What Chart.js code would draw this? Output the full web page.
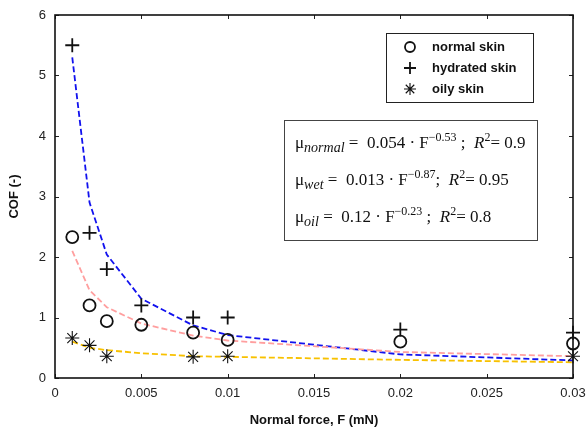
<!DOCTYPE html>
<html>
<head>
<meta charset="utf-8">
<script src="https://cdn.jsdelivr.net/npm/chart.js@4/dist/chart.umd.min.js"></script>
<style>
  html, body { margin: 0; padding: 0; background: #fff; }
  #wrap { width: 588px; height: 431px; }
</style>
</head>
<body>
<div id="wrap"><canvas id="c" width="588" height="431"></canvas></div>
<script>
// Normal force (mN) at which friction was measured
const forces = [0.001, 0.002, 0.003, 0.005, 0.008, 0.01, 0.02, 0.03];
// Measured coefficient of friction per skin condition
const normalSkin = [2.33, 1.20, 0.94, 0.88, 0.75, 0.63, 0.60, 0.57];
const hydratedSkin = [5.50, 2.40, 1.80, 1.20, 1.00, 1.00, 0.80, 0.75];
const oilyForces = [0.001, 0.002, 0.003, 0.008, 0.01, 0.03];
const oilySkin = [0.66, 0.54, 0.36, 0.35, 0.36, 0.36];
// Power-law fit curves evaluated at the measured forces
const normalFit = [2.10, 1.45, 1.17, 0.90, 0.70, 0.62, 0.43, 0.36];
const wetFit = [5.30, 2.90, 2.04, 1.31, 0.87, 0.71, 0.39, 0.29];
const oilFit = [0.60, 0.50, 0.46, 0.41, 0.36, 0.35, 0.30, 0.26];
// Axis ticks
const xTicks = [0, 0.005, 0.01, 0.015, 0.02, 0.025, 0.03];
const yTicks = [0, 1, 2, 3, 4, 5, 6];
// Legend entries and fit equations
const legendLabels = ['normal skin', 'hydrated skin', 'oily skin'];
const fitNames = ['normal', 'wet', 'oil'];
const fitCoeffs = ['0.054', '0.013', '0.12'];
const fitExps = ['\u22120.53', '\u22120.87', '\u22120.23'];
const fitR2 = ['0.9', '0.95', '0.8'];

const pts = (xs, ys) => xs.map((x, i) => ({ x: x, y: ys[i] }));

const markerStyles = ['circle', 'cross', 'star'];

function drawMarker(ctx, style, x, y, r) {
  ctx.save();
  ctx.strokeStyle = '#111';
  ctx.beginPath();
  if (style === 'circle') {
    ctx.lineWidth = 1.8;
    ctx.arc(x, y, r, 0, Math.PI * 2);
  } else if (style === 'cross') {
    ctx.lineWidth = 1.8;
    ctx.moveTo(x - r, y); ctx.lineTo(x + r, y);
    ctx.moveTo(x, y - r); ctx.lineTo(x, y + r);
  } else {
    ctx.lineWidth = 1.1;
    for (let k = 0; k < 4; k++) {
      const a = k * Math.PI / 4;
      ctx.moveTo(x - r * Math.cos(a), y - r * Math.sin(a));
      ctx.lineTo(x + r * Math.cos(a), y + r * Math.sin(a));
    }
  }
  ctx.stroke();
  ctx.restore();
}

// Frame, inward ticks, legend and equation box
const decorations = {
  id: 'decorations',
  afterDatasetsDraw(chart) {
    const ctx = chart.ctx;
    const a = chart.chartArea;
    const xs = chart.scales.x, ys = chart.scales.y;
    ctx.save();
    ctx.strokeStyle = '#222';
    ctx.lineWidth = 1;
    const tl = 4;
    ctx.beginPath();
    xTicks.forEach(v => {
      const px = Math.round(xs.getPixelForValue(v)) + 0.5;
      ctx.moveTo(px, a.bottom); ctx.lineTo(px, a.bottom - tl);
      ctx.moveTo(px, a.top); ctx.lineTo(px, a.top + tl);
    });
    yTicks.forEach(v => {
      const py = Math.round(ys.getPixelForValue(v)) + 0.5;
      ctx.moveTo(a.left, py); ctx.lineTo(a.left + tl, py);
      ctx.moveTo(a.right, py); ctx.lineTo(a.right - tl, py);
    });
    ctx.stroke();
    ctx.lineWidth = 1.6;
    ctx.strokeStyle = '#111';
    ctx.strokeRect(a.left, a.top, a.right - a.left, a.bottom - a.top);

    // Legend
    const lx = a.left + 331, ly = a.top + 18, lw = 147, lh = 69;
    ctx.fillStyle = '#fff';
    ctx.fillRect(lx, ly, lw, lh);
    ctx.lineWidth = 1;
    ctx.strokeStyle = '#222';
    ctx.strokeRect(lx + 0.5, ly + 0.5, lw, lh);
    ctx.font = 'bold 13px "Liberation Sans", Arial, sans-serif';
    ctx.fillStyle = '#111';
    ctx.textBaseline = 'middle';
    legendLabels.forEach((t, i) => {
      const y = ly + 14 + i * 21;
      drawMarker(ctx, markerStyles[i], lx + 24, y, i === 0 ? 5 : 6);
      ctx.fillText(t, lx + 46, y);
    });

    // Equation box
    const ex = a.left + 229, ey = a.top + 105, ew = 253, eh = 120;
    ctx.fillStyle = '#fff';
    ctx.fillRect(ex, ey, ew, eh);
    ctx.strokeStyle = '#444';
    ctx.strokeRect(ex + 0.5, ey + 0.5, ew, eh);
    ctx.fillStyle = '#111';
    ctx.textBaseline = 'alphabetic';
    const serif = '"Liberation Serif", "DejaVu Serif", serif';
    fitNames.forEach((n, i) => {
      let x = ex + 11;
      const base = ey + 28 + i * 37;
      const segs = [
        { t: '\u03bc', f: '17px ' + serif, dy: 0 },
        { t: n, f: 'italic 14px ' + serif, dy: 4 },
        { t: ' =  ' + fitCoeffs[i] + ' \u00b7 F', f: '17px ' + serif, dy: 0 },
        { t: fitExps[i], f: '12px ' + serif, dy: -7 },
        { t: i === 1 ? ';  ' : ' ;  ', f: '17px ' + serif, dy: 0 },
        { t: 'R', f: 'italic 17px ' + serif, dy: 0 },
        { t: '2', f: '12px ' + serif, dy: -7 },
        { t: '= ' + fitR2[i], f: '17px ' + serif, dy: 0 }
      ];
      segs.forEach(s => {
        ctx.font = s.f;
        ctx.fillText(s.t, x, base + s.dy);
        x += ctx.measureText(s.t).width;
      });
    });
    ctx.restore();
  }
};

const fitLine = (data, color) => ({
  type: 'scatter',
  data: pts(forces, data),
  showLine: true,
  borderColor: color,
  borderWidth: 1.8,
  borderDash: [6, 3],
  pointRadius: 0,
  fill: false,
  order: 2
});

const markerSet = (xs, ys, style, r, w) => ({
  type: 'scatter',
  data: pts(xs, ys),
  showLine: false,
  pointStyle: style,
  pointRadius: r,
  borderColor: '#111',
  backgroundColor: 'rgba(0,0,0,0)',
  borderWidth: w,
  clip: false,
  order: 1
});

new Chart(document.getElementById('c'), {
  type: 'scatter',
  data: {
    datasets: [
      fitLine(normalFit, '#ff9f9f'),
      fitLine(wetFit, '#1212ee'),
      fitLine(oilFit, '#f8c100'),
      markerSet(forces, normalSkin, 'circle', 6, 1.8),
      markerSet(forces, hydratedSkin, 'cross', 7, 1.8),
      markerSet(oilyForces, oilySkin, 'star', 7, 1.1)
    ]
  },
  options: {
    responsive: false,
    animation: false,
    events: [],
    layout: { padding: { top: 15, right: 15, left: 0, bottom: 0 } },
    plugins: { legend: { display: false }, tooltip: { enabled: false } },
    scales: {
      x: {
        type: 'linear',
        min: 0, max: 0.03,
        afterBuildTicks: s => { s.ticks = xTicks.map(v => ({ value: v })); },
        afterFit: s => { s.height = 53; s.paddingLeft = 0; s.paddingRight = 0; },
        grid: { display: false, drawTicks: false },
        border: { display: false },
        ticks: {
          padding: 8,
          color: '#222',
          font: { family: '"Liberation Sans", Arial, sans-serif', size: 13 },
          callback: v => String(v)
        },
        title: {
          display: true,
          text: 'Normal force, F (mN)',
          color: '#111',
          font: { family: '"Liberation Sans", Arial, sans-serif', size: 13, weight: 'bold' },
          padding: { top: 10, bottom: 3 }
        }
      },
      y: {
        type: 'linear',
        min: 0, max: 6,
        afterBuildTicks: s => { s.ticks = yTicks.map(v => ({ value: v })); },
        afterFit: s => { s.width = 55; s.paddingTop = 0; s.paddingBottom = 0; },
        grid: { display: false, drawTicks: false },
        border: { display: false },
        ticks: {
          padding: 9,
          color: '#222',
          font: { family: '"Liberation Sans", Arial, sans-serif', size: 13 },
          callback: v => String(v)
        },
        title: {
          display: true,
          text: 'COF (-)',
          color: '#111',
          font: { family: '"Liberation Sans", Arial, sans-serif', size: 13, weight: 'bold' },
          padding: { top: 7, bottom: 0 }
        }
      }
    }
  },
  plugins: [decorations]
});
</script>
</body>
</html>
